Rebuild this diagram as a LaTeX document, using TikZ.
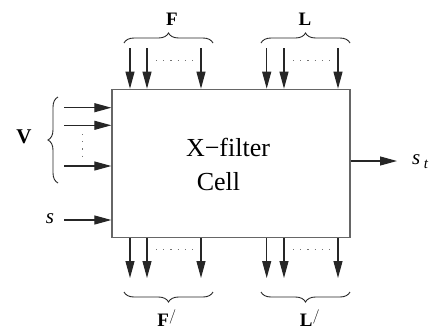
\documentclass[tikz,border=0pt]{standalone}
\usepackage{fontspec}
\setmainfont{Liberation Serif}
\usepackage{tikz}
\usetikzlibrary{arrows.meta,positioning,decorations.pathreplacing}

\begin{document}
\begin{tikzpicture}[x=1pt,y=-1pt,>={Triangle[length=17pt,width=9pt]}]
  \tikzstyle{arr}=[->,line width=1.1pt,black!85]
  \tikzstyle{dots}=[dash pattern=on 1.2pt off 6pt,line width=0.9pt,black!55]
  \tikzstyle{brc}=[decorate,decoration={brace,amplitude=10pt},line width=0.9pt,black!85]
  \tikzstyle{lbl}=[font=\fontsize{19}{21}\selectfont\bfseries,inner sep=0pt]
  \useasboundingbox (0,0) rectangle (434,333);
  \node[draw=black!60,line width=1.3pt,minimum width=238pt,minimum height=148.4pt,inner sep=0pt] (cell) at (231,163.5) {};
  \node[font=\fontsize{26}{28}\selectfont] (xf) at (228,147) {X−filter};
  \node[font=\fontsize{26}{28}\selectfont] (cl) at (218.5,182) {Cell};
  % inputs from above
  \foreach \x [count=\i] in {130,147,201,266.7,284,338} {
    \coordinate (t\i) at (\x,48);
    \draw[arr] (t\i) -- (t\i |- cell.north);
  }
  % outputs below
  \foreach \x [count=\i] in {130,147,201,266.7,284,338} {
    \coordinate (b\i) at (\x,278);
    \draw[arr] (b\i |- cell.south) -- (b\i);
  }
  % inputs from the left
  \foreach \y [count=\i] in {107.7,125.3,166} {
    \coordinate (v\i) at (64,\y);
    \draw[arr] (v\i) -- (v\i -| cell.west);
  }
  \coordinate (sin) at (64,220);
  \draw[arr] (sin) -- (sin -| cell.west);
  \coordinate (sout) at (397,161);
  \draw[arr] (sout -| cell.east) -- (sout);
  % dots
  \draw[dots] (156,60) -- (197,60);
  \draw[dots] (293,60) -- (332,60);
  \draw[dots] (156,249) -- (197,249);
  \draw[dots] (293,249) -- (332,249);
  \draw[dots] (82,134) -- (82,160);
  % braces
  \draw[brc] (124,43) -- (213,43);
  \draw[brc] (261,43) -- (350,43);
  \draw[brc] (213,292) -- (124,292);
  \draw[brc] (350,292) -- (261,292);
  \draw[brc] (58,183) -- (58,97);
  % labels
  \node[lbl] (F) at (172,19) {F};
  \node[lbl] (L) at (305,19) {L};
  \node[lbl,font=\fontsize{21}{23}\selectfont\bfseries] (V) at (24,137) {V};
  \node[lbl] (Fp) at (167,318) {F$^{/}$};
  \node[lbl] (Lp) at (310,318) {L$^{/}$};
  \node[font=\fontsize{21}{23}\selectfont\itshape,inner sep=0pt] (s) at (50,219) {s};
  \node[font=\fontsize{21}{23}\selectfont\itshape,inner sep=0pt] (st) at (420,162) {s\,\raisebox{-4pt}{\fontsize{15}{16}\selectfont t}};
\end{tikzpicture}
\end{document}
